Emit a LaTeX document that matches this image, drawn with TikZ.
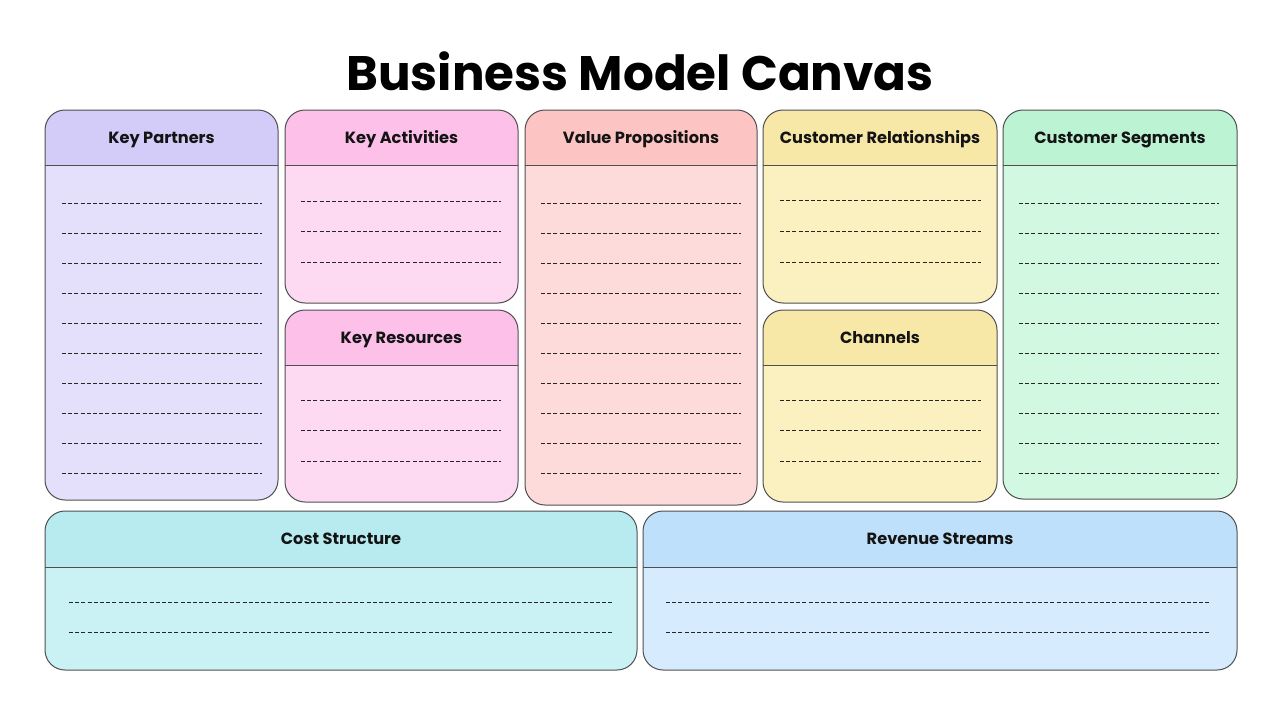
\documentclass[tikz,border=0pt]{standalone}
\usepackage{fontspec}
\setmainfont{Poppins}
\definecolor{kph}{HTML}{D3CCF8}
\definecolor{kpb}{HTML}{E4DFFB}
\definecolor{kah}{HTML}{FCC0E9}
\definecolor{kab}{HTML}{FDDAF1}
\definecolor{vph}{HTML}{FCC5C4}
\definecolor{vpb}{HTML}{FDDBDA}
\definecolor{crh}{HTML}{F7E8A8}
\definecolor{crb}{HTML}{FAF0C0}
\definecolor{csh}{HTML}{BCF3D3}
\definecolor{csb}{HTML}{D2F8E2}
\definecolor{coh}{HTML}{B7EBF0}
\definecolor{cob}{HTML}{CAF1F4}
\definecolor{rsh}{HTML}{BFE0FB}
\definecolor{rsb}{HTML}{D6EBFD}
\definecolor{edge}{HTML}{4F4F4F}
\tikzset{
  boxedge/.style={draw=edge, line width=1pt, rounded corners=20pt},
  sepline/.style={draw=edge, line width=1pt},
  writeline/.style={draw=black!85, line width=0.6pt, dash pattern=on 4pt off 2.2pt},
  hdrtext/.style={font=\bfseries\fontsize{16.2}{19}\selectfont, text=black!92, anchor=base, inner sep=0pt},
}
% #1 name, #2 x1, #3 y1, #4 x2, #5 y2, #6 bar y, #7 header colour, #8 body colour, #9 title
\newcommand\bmcbox[9]{%
  \begin{scope}
    \clip[rounded corners=20pt] (#2,#3) rectangle (#4,#5);
    \fill[#8] (#2,#3) rectangle (#4,#5);
    \fill[#7] (#2,#3) rectangle (#4,#6);
  \end{scope}
  \path[boxedge] (#2,#3) rectangle (#4,#5);
  \path[sepline] (#2,#6) -- (#4,#6);
  \node[hdrtext] (#1) at ({(#2+#4)/2},{(#3+#6)/2+5.8}) {#9};
}
\newcommand\bmclines[5]{% x1, x2, first y, step, count-1
  \foreach \k in {0,...,#5} {\path[writeline] (#1,{#3+#4*\k}) -- (#2,{#3+#4*\k});}
}
\begin{document}
\begin{tikzpicture}[x=1pt,y=-1pt]
\useasboundingbox (0,0) rectangle (1280,720);
\fill[white] (0,0) rectangle (1280,720);
\node[font=\bfseries\fontsize{48.4}{58}\selectfont, text=black, anchor=base, inner sep=0pt] (title) at (640,90) {Business Model Canvas};

\bmcbox{kp}{45}{110}{278}{500}{165}{kph}{kpb}{Key Partners}
\bmclines{62}{262}{203}{30}{9}

\bmcbox{ka}{285}{110}{518}{303}{165}{kah}{kab}{Key Activities}
\bmclines{301}{501}{201}{30.5}{2}

\bmcbox{kr}{285}{310}{518}{502}{365}{kah}{kab}{Key Resources}
\bmclines{301}{501}{400}{30.5}{2}

\bmcbox{vp}{525}{110}{757}{505}{165}{vph}{vpb}{Value Propositions}
\bmclines{541}{741}{203}{30}{9}

\bmcbox{cr}{763}{110}{997}{303}{165}{crh}{crb}{Customer Relationships}
\bmclines{780}{981}{200}{31}{2}

\bmcbox{ch}{763}{310}{997}{502}{365}{crh}{crb}{Channels}
\bmclines{780}{981}{400}{30.5}{2}

\bmcbox{cs}{1003}{110}{1237}{499}{165}{csh}{csb}{Customer Segments}
\bmclines{1019}{1219}{203}{30}{9}

\bmcbox{co}{45}{511}{637}{670}{567}{coh}{cob}{Cost Structure}
\bmclines{69}{613}{602}{30}{1}

\bmcbox{rs}{643}{511}{1237}{670}{567}{rsh}{rsb}{Revenue Streams}
\bmclines{666}{1210}{602}{30}{1}
\end{tikzpicture}
\end{document}
